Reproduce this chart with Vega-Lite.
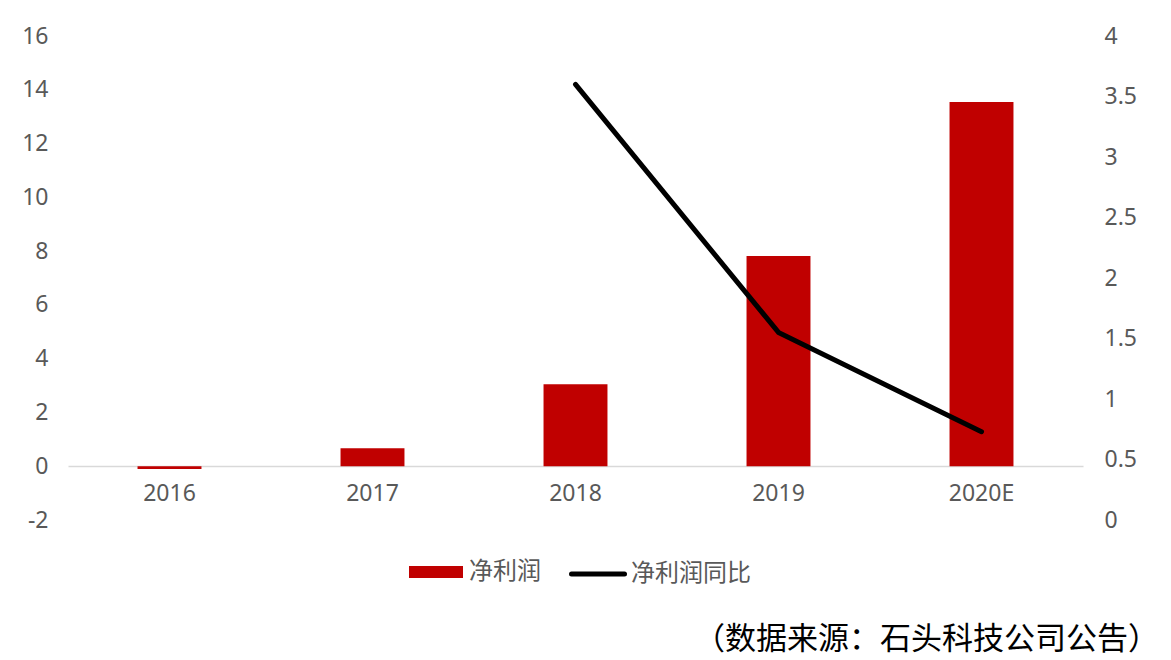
{
  "$schema": "https://vega.github.io/schema/vega-lite/v6.json",
  "width": 1015,
  "height": 484,
  "autosize": {"type": "none"},
  "padding": {"left": 68, "top": 36, "right": 88, "bottom": 140},
  "background": "#ffffff",
  "config": {
    "view": {"stroke": null},
    "font": "Noto Sans CJK SC",
    "axis": {"labelFont": "Noto Sans", "labelColor": "#595959", "labelFontSize": 23, "grid": false, "ticks": false}
  },
  "title": {
    "text": "（数据来源：石头科技公司公告）",
    "orient": "bottom",
    "anchor": "end",
    "frame": "group",
    "fontSize": 31,
    "fontWeight": "normal",
    "font": "Noto Sans CJK SC",
    "color": "#000000",
    "dx": 76,
    "offset": 39
  },
  "data": {
    "values": [
      {"year": "2016", "profit": -0.1, "yoy": null},
      {"year": "2017", "profit": 0.67, "yoy": null},
      {"year": "2018", "profit": 3.05, "yoy": 3.6},
      {"year": "2019", "profit": 7.82, "yoy": 1.55},
      {"year": "2020E", "profit": 13.55, "yoy": 0.73}
    ]
  },
  "encoding": {
    "x": {
      "field": "year",
      "type": "nominal",
      "sort": null,
      "scale": {"paddingInner": 0.685, "paddingOuter": 0.3425},
      "axis": {
        "title": null,
        "orient": "bottom",
        "offset": -54,
        "domainColor": "#d9d9d9",
        "domainWidth": 1.5,
        "labelAngle": 0,
        "labelPadding": 16
      }
    }
  },
  "layer": [
    {
      "mark": {"type": "bar"},
      "encoding": {
        "y": {
          "field": "profit",
          "type": "quantitative",
          "scale": {"domain": [-2, 16], "nice": false, "zero": false},
          "axis": {
            "title": null,
            "domain": false,
            "values": [-2, 0, 2, 4, 6, 8, 10, 12, 14, 16],
            "labelExpr": "datum.value + ''",
            "labelPadding": 20
          }
        },
        "fill": {
          "datum": "净利润",
          "type": "nominal",
          "scale": {"domain": ["净利润"], "range": ["#c00000"]},
          "legend": {
            "title": null,
            "orient": "none",
            "legendX": 341,
            "legendY": 509,
            "symbolType": "M-1,-0.22H1V0.22H-1Z",
            "symbolSize": 2916,
            "symbolStrokeWidth": 0,
            "labelFontSize": 24,
            "labelColor": "#595959",
            "labelFont": "Noto Sans CJK SC",
            "labelOffset": 6
          }
        }
      }
    },
    {
      "mark": {"type": "line", "strokeWidth": 5, "strokeCap": "round", "strokeJoin": "round"},
      "encoding": {
        "y": {
          "field": "yoy",
          "type": "quantitative",
          "scale": {"domain": [0, 4], "nice": false, "zero": false},
          "axis": {
            "title": null,
            "orient": "right",
            "domain": false,
            "values": [0, 0.5, 1, 1.5, 2, 2.5, 3, 3.5, 4],
            "labelExpr": "datum.value + ''",
            "labelPadding": 21
          }
        },
        "stroke": {
          "datum": "净利润同比",
          "type": "nominal",
          "scale": {"domain": ["净利润同比"], "range": ["#000000"]},
          "legend": {
            "title": null,
            "orient": "none",
            "legendX": 501,
            "legendY": 509,
            "symbolType": "stroke",
            "symbolSize": 2809,
            "symbolStrokeWidth": 5,
            "labelFontSize": 24,
            "labelColor": "#595959",
            "labelFont": "Noto Sans CJK SC",
            "labelOffset": 4,
            "encode": {"symbols": {"update": {"strokeCap": {"value": "round"}}}}
          }
        }
      }
    }
  ],
  "resolve": {"scale": {"y": "independent"}}
}
